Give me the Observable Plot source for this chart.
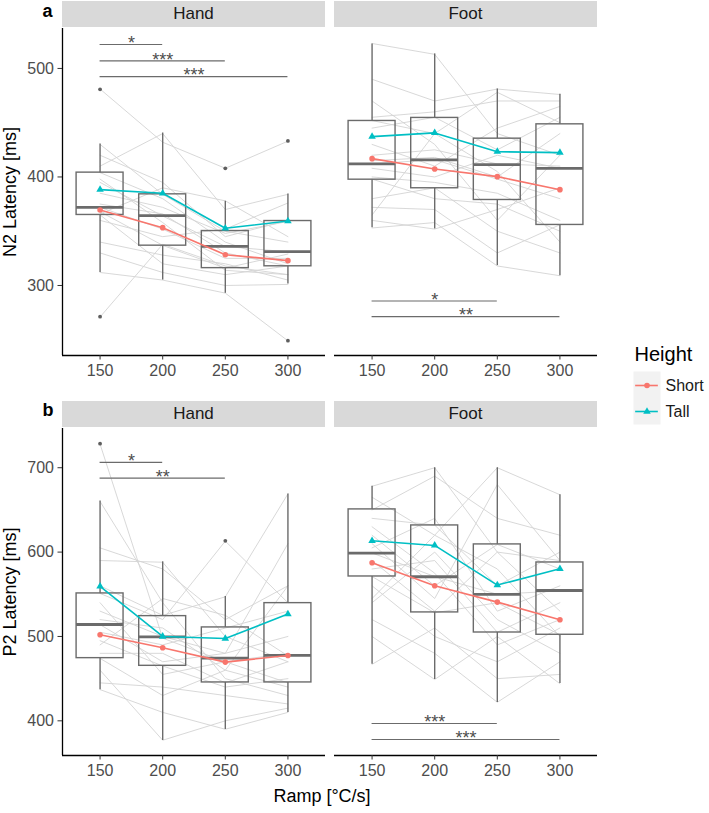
<!DOCTYPE html>
<html><head><meta charset="utf-8">
<script src="https://cdn.jsdelivr.net/npm/d3@7"></script>
<script src="https://cdn.jsdelivr.net/npm/@observablehq/plot@0.6"></script>
<style>
body{margin:0;background:#fff;}
#chart{position:relative;width:709px;height:813px;font-family:"Liberation Sans",Arial,sans-serif;overflow:hidden;background:#fff;}
.abs{position:absolute;white-space:nowrap;}
.strip{position:absolute;background:#d9d9d9;color:#1a1a1a;font-size:17px;line-height:26px;height:26px;text-align:center;}
.tag{position:absolute;font-weight:bold;font-size:18px;line-height:20px;color:#000;}
.ytitle{position:absolute;width:300px;height:18px;line-height:18px;font-size:18px;text-align:center;transform:rotate(-90deg);color:#000;white-space:nowrap;}
</style></head><body><div id="chart"></div>
<script>
// ---------- data ----------
const ramps = [150, 200, 250, 300];
const facets = ["Hand", "Foot"];
const heights = ["Short", "Tall"];
const heightColors = ["#F8766D", "#00BFC4"];
const heightSymbols = ["circle", "triangle"];
const n2Ticks = [300, 400, 500];
const p2Ticks = [400, 500, 600, 700];
const n2Domain = [235.5, 536.8];
const p2Domain = [358.9, 746.5];

// boxplot summaries per ramp: [lower whisker, Q1, median, Q3, upper whisker]
const n2HandBoxes = [[312, 365, 372, 404, 430.4], [305, 336.7, 364.4, 384, 440.5], [292.8, 316, 336, 350.2, 377.6], [301.4, 317.7, 331.2, 359.4, 384.3]];
const n2FootBoxes = [[353.3, 397.5, 412, 451.6, 522.6], [352.1, 389.6, 415.7, 454.4, 513.4], [318.3, 378.8, 411.4, 435.3, 481.1], [309, 355.8, 408, 448.5, 476.2]];
const p2HandBoxes = [[436.8, 474.3, 514.2, 551, 660.5], [376.7, 465.2, 499.6, 524.1, 588.5], [389.7, 445.5, 474.3, 510.7, 547.4], [409.9, 445.5, 477.5, 539.5, 668.8]];
const p2FootBoxes = [[467.2, 571.1, 598.8, 650.6, 677.9], [449, 528.5, 570.8, 631.6, 700], [421.7, 504.7, 549.8, 609.1, 700], [444.3, 502, 554.5, 587.7, 668]];

// outliers: [ramp, value]
const n2HandOutliers = [[150, 480.8], [150, 271.3], [250, 408], [300, 433.2], [300, 249.2]];
const n2FootOutliers = [];
const p2HandOutliers = [[150, 728.5], [250, 613.4]];
const p2FootOutliers = [];

// group means
const n2HandShort = [369.6, 353.3, 328.4, 322.9];
const n2HandTall = [388.3, 385.0, 352.7, 359.4];
const n2FootShort = [416.9, 407.4, 400.3, 388.3];
const n2FootTall = [437.2, 440.6, 423.3, 422.4];
const p2HandShort = [502.0, 486.6, 469.6, 477.5];
const p2HandTall = [559.3, 500.0, 497.6, 526.5];
const p2FootShort = [587.4, 560.1, 540.7, 519.8];
const p2FootTall = [613.4, 607.9, 560.9, 580.2];

// significance brackets: [from ramp, to ramp, y, label]
const n2HandSig = [[150, 200, 522, "*"], [150, 250, 507, "***"], [150, 300, 492.5, "***"]];
const n2FootSig = [[150, 250, 285.7, "*"], [150, 300, 271.3, "**"]];
const p2HandSig = [[150, 200, 706.3, "*"], [150, 250, 687.7, "**"]];
const p2FootSig = [[150, 250, 396.8, "***"], [150, 300, 377.9, "***"]];

// individual subjects (values at 150, 200, 250, 300)
const n2HandSubjects = [
  [481, 432, 408, 433], [271, 338, 318, 310], [430, 384, 350, 340], [420, 395, 345, 360],
  [410, 440, 370, 384], [404, 380, 340, 320], [395, 364, 336, 331], [385, 372, 348, 359],
  [375, 366, 330, 318], [372, 352, 325, 325], [368, 337, 316, 329], [365, 320, 310, 318],
  [360, 345, 352, 376], [340, 328, 320, 305], [330, 312, 300, 301], [312, 305, 293, 249],
  [366, 390, 378, 345], [398, 358, 314, 310]
];
const n2FootSubjects = [
  [523, 513, 440, 420], [490, 470, 481, 476], [455, 460, 470, 470], [452, 440, 478, 450],
  [445, 455, 425, 455], [430, 410, 445, 465], [420, 425, 412, 410], [415, 418, 400, 440],
  [412, 416, 398, 380], [408, 400, 420, 408], [400, 395, 385, 360], [398, 380, 375, 350],
  [380, 390, 350, 330], [372, 370, 330, 356], [360, 352, 370, 390], [353, 358, 318, 309],
  [365, 440, 405, 340], [470, 430, 360, 420]
];
const p2HandSubjects = [
  [728, 498, 470, 480], [660, 540, 450, 430], [605, 580, 520, 560], [590, 588, 500, 470],
  [560, 525, 547, 669], [551, 520, 613, 540], [530, 500, 480, 610], [520, 510, 460, 560],
  [514, 470, 480, 500], [505, 490, 510, 530], [495, 465, 440, 450], [480, 480, 445, 470],
  [474, 430, 460, 440], [460, 377, 400, 415], [445, 440, 430, 420], [437, 410, 390, 410],
  [490, 545, 525, 477], [540, 455, 470, 445]
];
const p2FootSubjects = [
  [678, 700, 600, 590], [665, 620, 700, 668], [650, 690, 640, 620], [640, 632, 560, 600],
  [620, 560, 609, 580], [605, 640, 530, 560], [599, 571, 550, 554], [590, 530, 600, 530],
  [580, 590, 505, 540], [571, 528, 540, 502], [560, 500, 470, 510], [540, 600, 520, 480],
  [520, 480, 422, 470], [500, 449, 500, 444], [467, 510, 450, 455], [610, 545, 680, 590],
  [630, 575, 490, 520], [545, 620, 580, 500]
];

// ---------- drawing ----------
const chart = document.getElementById("chart");
const FONT = "Liberation Sans, Arial, sans-serif";
const boxColor = "#6b6b6b";
const PANEL_W = 263, PANEL_H = 327, MB = 34;
const xDomain = [120, 330];
const half = 18.75; // box half-width in ramp units (0.75 of 50-unit spacing)

function addDiv(cls, text, style) {
  const d = document.createElement("div");
  d.className = cls;
  d.textContent = text;
  Object.assign(d.style, style);
  chart.appendChild(d);
  return d;
}

function panel({left, top, yAxis, yDomain, yTicks, boxes, outliers, subjects, shortMeans, tallMeans, sig}) {
  const marginLeft = yAxis ? 62 : 0;
  const subjRows = subjects.flatMap((vals, i) => vals.map((v, j) => ({subj: i, ramp: ramps[j], value: v})));
  const boxRows = boxes.map((b, j) => ({ramp: ramps[j], lo: b[0], q1: b[1], med: b[2], q3: b[3], hi: b[4]}));
  const meanRows = [
    ...shortMeans.map((v, j) => ({h: heights[0], ramp: ramps[j], value: v})),
    ...tallMeans.map((v, j) => ({h: heights[1], ramp: ramps[j], value: v}))
  ];
  const outRows = outliers.map(([ramp, value]) => ({ramp, value}));
  const sigRows = sig.map(([a, b, y, label]) => ({a, b, y, label}));
  const marks = [
    Plot.line(subjRows, {x: "ramp", y: "value", z: "subj", stroke: "#d4d4d4", strokeWidth: 0.9}),
    Plot.ruleX(boxRows, {x: "ramp", y1: "lo", y2: "q1", stroke: boxColor, strokeWidth: 1.4}),
    Plot.ruleX(boxRows, {x: "ramp", y1: "q3", y2: "hi", stroke: boxColor, strokeWidth: 1.4}),
    Plot.rect(boxRows, {x1: d => d.ramp - half, x2: d => d.ramp + half, y1: "q1", y2: "q3", fill: "none", stroke: boxColor, strokeWidth: 1.4}),
    Plot.ruleY(boxRows, {y: "med", x1: d => d.ramp - half, x2: d => d.ramp + half, stroke: boxColor, strokeWidth: 2.8}),
    Plot.dot(outRows, {x: "ramp", y: "value", r: 1.9, fill: "#5e5e5e", stroke: null}),
    Plot.line(meanRows, {x: "ramp", y: "value", z: "h", stroke: "h", strokeWidth: 1.6}),
    Plot.dot(meanRows, {x: "ramp", y: "value", fill: "h", symbol: "h", r: 2.8, stroke: null}),
    Plot.ruleY(sigRows, {y: "y", x1: "a", x2: "b", stroke: boxColor, strokeWidth: 1.1}),
    Plot.text(sigRows, {x: d => (d.a + d.b) / 2, y: "y", text: "label", fontSize: 18, fill: "#4d4d4d", lineAnchor: "middle", dy: -1}),
    Plot.ruleY([yDomain[0]], {stroke: "#000", strokeWidth: 1.3}),
    Plot.axisX({ticks: ramps, tickFormat: d => String(d), tickSize: 4.5, tickPadding: 5, fontSize: 16, fill: "#4d4d4d", stroke: "#333", label: null})
  ];
  if (yAxis) {
    marks.push(Plot.ruleX([xDomain[0]], {stroke: "#000", strokeWidth: 1.3}));
    marks.push(Plot.axisY({ticks: yTicks, tickSize: 4.5, tickPadding: 4, fontSize: 16, fill: "#4d4d4d", stroke: "#333", label: null}));
  }
  const svg = Plot.plot({
    width: marginLeft + PANEL_W,
    height: PANEL_H + MB,
    marginLeft, marginRight: 0, marginTop: 0, marginBottom: MB,
    x: {domain: xDomain},
    y: yAxis ? {domain: yDomain} : {domain: yDomain, axis: null},
    color: {domain: heights, range: heightColors},
    symbol: {domain: heights, range: heightSymbols},
    style: {fontFamily: FONT, fontSize: "16px", background: "transparent", overflow: "visible"},
    marks
  });
  svg.style.position = "absolute";
  svg.style.left = (left - marginLeft) + "px";
  svg.style.top = top + "px";
  chart.appendChild(svg);
}

const rows = [
  {top: 28, stripTop: 1, tag: "a", tagTop: 0.7, title: "N2 Latency [ms]", yDomain: n2Domain, yTicks: n2Ticks,
   panels: [
     {boxes: n2HandBoxes, outliers: n2HandOutliers, subjects: n2HandSubjects, shortMeans: n2HandShort, tallMeans: n2HandTall, sig: n2HandSig},
     {boxes: n2FootBoxes, outliers: n2FootOutliers, subjects: n2FootSubjects, shortMeans: n2FootShort, tallMeans: n2FootTall, sig: n2FootSig}
   ]},
  {top: 428, stripTop: 401, tag: "b", tagTop: 400.4, title: "P2 Latency [ms]", yDomain: p2Domain, yTicks: p2Ticks,
   panels: [
     {boxes: p2HandBoxes, outliers: p2HandOutliers, subjects: p2HandSubjects, shortMeans: p2HandShort, tallMeans: p2HandTall, sig: p2HandSig},
     {boxes: p2FootBoxes, outliers: p2FootOutliers, subjects: p2FootSubjects, shortMeans: p2FootShort, tallMeans: p2FootTall, sig: p2FootSig}
   ]}
];
const panelLefts = [62, 334];

rows.forEach(row => {
  row.panels.forEach((p, i) => {
    panel({left: panelLefts[i], top: row.top, yAxis: i === 0, yDomain: row.yDomain, yTicks: row.yTicks, ...p});
    addDiv("strip", facets[i], {left: panelLefts[i] + "px", top: row.stripTop + "px", width: PANEL_W + "px"});
  });
  addDiv("tag", row.tag, {left: "42.5px", top: row.tagTop + "px"});
  addDiv("ytitle", row.title, {left: (9.5 - 150) + "px", top: (row.top + PANEL_H / 2 - 9) + "px"});
});

// x axis title
addDiv("abs", "Ramp [°C/s]", {left: "222px", width: "200px", textAlign: "center", top: "786.4px", fontSize: "18px", lineHeight: "20px", color: "#000"});

// legend
addDiv("abs", "Height", {left: "634.5px", top: "342.8px", fontSize: "20px", lineHeight: "22px", color: "#000"});
const legend = Plot.plot({
  width: 76, height: 53,
  marginLeft: 0, marginRight: 49, marginTop: 0, marginBottom: 0,
  x: {domain: [0, 1], axis: null},
  y: {type: "point", domain: heights, padding: 0.5, axis: null},
  color: {domain: heights, range: heightColors},
  symbol: {domain: heights, range: heightSymbols},
  style: {fontFamily: FONT, background: "transparent", overflow: "visible"},
  marks: [
    Plot.frame({fill: "#f2f2f2", stroke: "none"}),
    Plot.ruleY(heights, {y: d => d, x1: 0.08, x2: 0.92, stroke: d => d, strokeWidth: 1.6}),
    Plot.dot(heights, {x: 0.5, y: d => d, fill: d => d, symbol: d => d, r: 2.8, stroke: null}),
    Plot.text(heights, {x: 1, y: d => d, text: d => d, dx: 5, textAnchor: "start", fontSize: 16, fill: "#1a1a1a"})
  ]
});
legend.style.position = "absolute";
legend.style.left = "633px";
legend.style.top = "371px";
chart.appendChild(legend);
</script>
</body></html>
